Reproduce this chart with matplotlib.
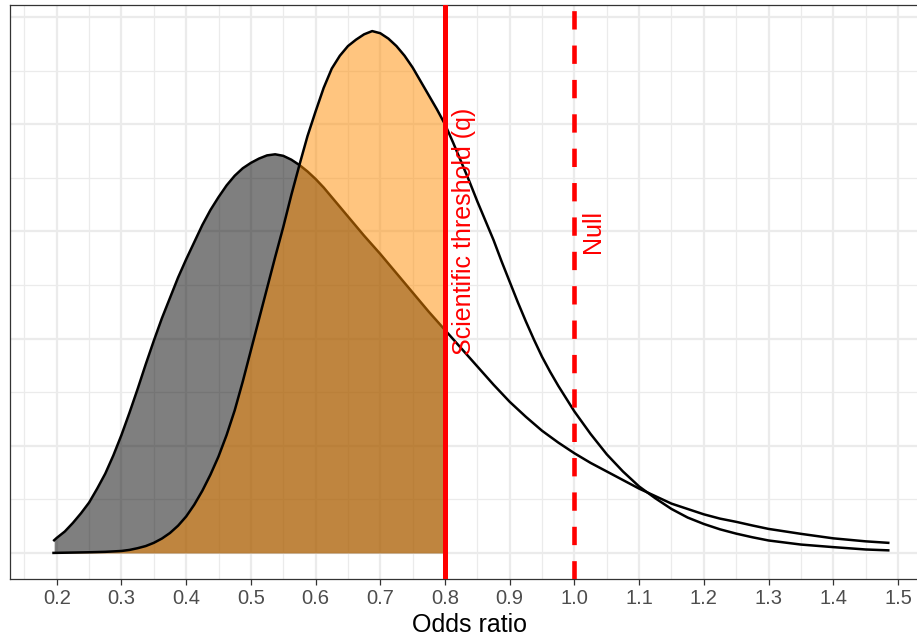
import matplotlib
matplotlib.use("Agg")
import matplotlib.pyplot as plt
from matplotlib.ticker import MultipleLocator
import numpy as np

# Posterior density curves on the odds-ratio scale
or_orange = [0.195, 0.25, 0.275, 0.3, 0.3125, 0.325, 0.3375, 0.35, 0.3625, 0.375,
             0.3875, 0.4, 0.4125, 0.425, 0.4375, 0.45, 0.4625, 0.475, 0.4875, 0.5,
             0.5125, 0.525, 0.5375, 0.55, 0.5625, 0.575, 0.5875, 0.6, 0.6125, 0.625,
             0.6375, 0.65, 0.6625, 0.675, 0.6875, 0.7, 0.7125, 0.725, 0.7375, 0.75,
             0.7625, 0.775, 0.7875, 0.8, 0.8125, 0.825, 0.8375, 0.85, 0.8625, 0.875,
             0.8875, 0.9, 0.9125, 0.925, 0.9375, 0.95, 0.9625, 0.975, 0.9875, 1.0,
             1.025, 1.05, 1.075, 1.1, 1.125, 1.15, 1.175, 1.2, 1.225, 1.25, 1.275,
             1.3, 1.35, 1.4, 1.45, 1.485]
dens_orange = [0.0, 0.003, 0.005, 0.009, 0.014, 0.022, 0.032, 0.047, 0.067, 0.093,
               0.127, 0.17, 0.225, 0.29, 0.365, 0.45, 0.55, 0.665, 0.80, 0.945,
               1.09, 1.235, 1.38, 1.52, 1.67, 1.81, 1.945, 2.06, 2.17, 2.26,
               2.32, 2.365, 2.395, 2.42, 2.435, 2.425, 2.40, 2.365, 2.32, 2.265,
               2.20, 2.135, 2.07, 2.0, 1.915, 1.825, 1.735, 1.64, 1.55, 1.46,
               1.36, 1.265, 1.17, 1.08, 0.995, 0.915, 0.845, 0.78, 0.72, 0.66,
               0.555, 0.46, 0.38, 0.31, 0.255, 0.205, 0.165, 0.135, 0.11, 0.09, 0.073,
               0.058, 0.039, 0.027, 0.016, 0.012]

or_gray = [0.196, 0.2, 0.2125, 0.225, 0.2375, 0.25, 0.2625, 0.275, 0.2875, 0.3,
           0.3125, 0.325, 0.3375, 0.35, 0.3625, 0.375, 0.3875, 0.4, 0.4125, 0.425,
           0.4375, 0.45, 0.4625, 0.475, 0.4875, 0.5, 0.5125, 0.525, 0.5375, 0.55,
           0.5625, 0.575, 0.5875, 0.6, 0.6125, 0.625, 0.6375, 0.65, 0.675, 0.7,
           0.725, 0.75, 0.775, 0.8, 0.825, 0.85, 0.875, 0.9, 0.925, 0.95, 0.975,
           1.0, 1.025, 1.05, 1.075, 1.1, 1.125, 1.15, 1.175, 1.2, 1.225, 1.25,
           1.275, 1.3, 1.35, 1.4, 1.45, 1.485]
dens_gray = [0.059, 0.07, 0.10, 0.14, 0.185, 0.235, 0.30, 0.37, 0.455, 0.55,
             0.655, 0.765, 0.88, 0.99, 1.095, 1.19, 1.285, 1.37, 1.45, 1.53,
             1.60, 1.66, 1.715, 1.76, 1.795, 1.82, 1.84, 1.855, 1.86, 1.853,
             1.835, 1.81, 1.78, 1.745, 1.705, 1.66, 1.615, 1.57, 1.48, 1.395,
             1.305, 1.215, 1.125, 1.04, 0.955, 0.87, 0.785, 0.705, 0.635, 0.57, 0.515,
             0.465, 0.42, 0.38, 0.34, 0.30, 0.265, 0.23, 0.205, 0.18, 0.16, 0.145,
             0.128, 0.112, 0.089, 0.068, 0.054, 0.047]

threshold = 0.8
null_value = 1.0
x_ticks = [0.2, 0.3, 0.4, 0.5, 0.6, 0.7, 0.8, 0.9, 1.0, 1.1, 1.2, 1.3, 1.4, 1.5]
x_tick_labels = ["0.2", "0.3", "0.4", "0.5", "0.6", "0.7", "0.8", "0.9", "1.0",
                 "1.1", "1.2", "1.3", "1.4", "1.5"]

plt.rcParams["font.family"] = ["Liberation Sans", "DejaVu Sans"]

W, H = 917, 639
fig = plt.figure(figsize=(W / 100, H / 100), dpi=100)
ax_left, ax_right = 9.5, 930.0
ax_top, ax_bottom = 5.0, 579.0
ax = fig.add_axes([ax_left / W, 1 - ax_bottom / H,
                   (ax_right - ax_left) / W, (ax_bottom - ax_top) / H])

ymax = max(dens_orange)
ax.set_xlim(0.127, 1.5495)
ax.set_ylim(-0.05 * ymax, 1.05 * ymax)

# grid
ax.set_axisbelow(True)
ax.xaxis.set_major_locator(MultipleLocator(0.1))
ax.xaxis.set_minor_locator(MultipleLocator(0.05))
ax.yaxis.set_major_locator(MultipleLocator(0.5))
ax.yaxis.set_minor_locator(MultipleLocator(0.25))
ax.grid(which="major", color="#EBEBEB", linewidth=1.6)
ax.grid(which="minor", color="#EBEBEB", linewidth=0.9)
ax.set_xticks(x_ticks)
ax.set_xticklabels(x_tick_labels)
ax.tick_params(axis="x", which="major", length=4, width=0.9, color="#333333",
               labelsize=14.5, labelcolor="#4D4D4D", pad=3)
ax.tick_params(axis="x", which="minor", length=0)
ax.tick_params(axis="y", which="both", length=0, labelleft=False)
for s in ax.spines.values():
    s.set_color("#333333")
    s.set_linewidth(0.9)

og = np.array(or_gray)
dg = np.array(dens_gray)
oo = np.array(or_orange)
do = np.array(dens_orange)

# shaded mass below the scientific threshold
mg = og <= threshold
mo = oo <= threshold
ax.fill_between(og[mg], 0, dg[mg], color="black", alpha=0.5, linewidth=0)
ax.plot(og, dg, color="black", linewidth=1.8, zorder=3, solid_joinstyle="round")
ax.fill_between(oo[mo], 0, do[mo], color="#FF8C00", alpha=0.5, linewidth=0, zorder=4)
ax.plot(oo, do, color="black", linewidth=1.8, zorder=5, solid_joinstyle="round")

# reference lines
ax.axvline(threshold, color="#FF0000", linewidth=3.6, zorder=6)
ax.axvline(null_value, color="#FF0000", linewidth=3.3, dashes=(4, 3.5), zorder=6)

ax.text(threshold + 0.029, 1.5, "Scientific threshold (q)", rotation=90,
        color="#FF0000", fontsize=18, ha="center", va="center", zorder=7)
ax.text(null_value + 0.029, 1.5, "Null", rotation=90,
        color="#FF0000", fontsize=18, ha="center", va="center", zorder=7)

ax.set_xlabel("Odds ratio", fontsize=18, color="black", labelpad=4)

fig.savefig("out.png", dpi=100)
